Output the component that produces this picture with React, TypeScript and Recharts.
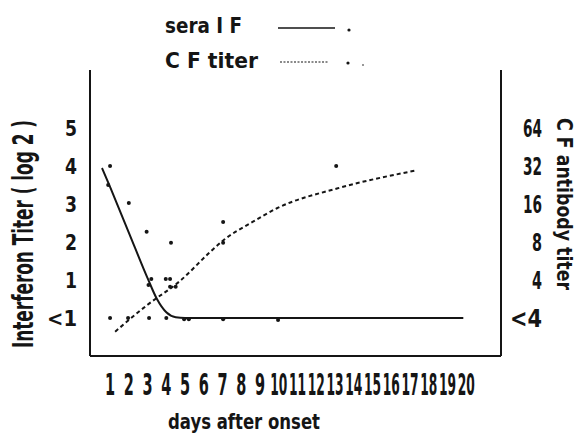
import React from "react";
import { ComposedChart, XAxis, YAxis, Line, Scatter, Customized } from "recharts";

// ---- data ----
const xTicks = [1, 2, 3, 4, 5, 6, 7, 8, 9, 10, 11, 12, 13, 14, 15, 16, 17, 18, 19, 20];
const yTicks = [0, 1, 2, 3, 4, 5];
const leftTickLabels = ["<1", "1", "2", "3", "4", "5"];
const rightTickLabels = ["<4", "4", "8", "16", "32", "64"];

// sera IF (log2 interferon titer), fitted curve
const ifCurveDays = [0.57, 1, 2, 3, 3.5, 4, 4.5, 5, 10, 15, 19.84];
const ifCurveValues = [3.95, 3.45, 2.25, 1.05, 0.5, 0.15, 0.02, 0, 0, 0, 0];

// CF titer, fitted curve (same scale position as right axis)
const cfCurveDays = [1.27, 3, 4.74, 6.34, 7.05, 8.5, 9.9, 13.1, 17.27];
const cfCurveValues = [-0.36, 0.35, 0.98, 1.74, 2.05, 2.5, 2.89, 3.41, 3.88];

// individual sera IF observations
const ifDotDays = [1.0, 0.9, 1.0, 2.0, 1.96, 2.95, 3.2, 3.05, 3.08, 4.25, 3.97, 4.2, 4.2, 4.5, 4.0, 4.95, 5.2, 7.03, 9.96];
const ifDotValues = [4.0, 3.5, 0, 3.03, 0, 2.27, 1.03, 0.87, 0, 1.98, 1.03, 1.03, 0.82, 0.82, 0, -0.03, -0.03, -0.03, -0.05];

// individual CF observations
const cfDotDays = [7.03, 7.03, 13.06];
const cfDotValues = [2.53, 1.98, 4.0];

const ifCurve = ifCurveDays.map((x, i) => ({ x, y: ifCurveValues[i] }));
const cfCurve = cfCurveDays.map((x, i) => ({ x, y: cfCurveValues[i] }));
const ifDots = ifDotDays.map((x, i) => ({ x, y: ifDotValues[i] }));
const cfDots = cfDotDays.map((x, i) => ({ x, y: cfDotValues[i] }));

const INK = "#151515";
const FONT = "'DejaVu Sans Condensed', 'Liberation Sans Narrow', sans-serif";

const XTick = (props: any) => {
  const { x, y, payload } = props;
  const v = payload.value;
  const two = String(v).length > 1;
  const sx = two ? 0.44 : 0.52;
  return (
    <text
      transform={`translate(${x},${y + 39}) scale(${sx},1)`}
      x={0}
      y={0}
      textAnchor="middle"
      fontFamily={FONT}
      fontWeight="bold"
      fontSize={31}
      fill={INK}
    >
      {v}
    </text>
  );
};

const LeftTick = (props: any) => {
  const { x, y, payload } = props;
  const idx = yTicks.indexOf(payload.value);
  const label = leftTickLabels[idx];
  return (
    <text
      x={x}
      y={y + 8}
      textAnchor="end"
      fontFamily={FONT}
      fontWeight="bold"
      fontSize={22}
      fill={INK}
      textLength={label.length > 1 ? 30 : 12}
      lengthAdjust="spacingAndGlyphs"
    >
      {label}
    </text>
  );
};

const RightTick = (props: any) => {
  const { x, y, payload } = props;
  const idx = yTicks.indexOf(payload.value);
  const label = rightTickLabels[idx];
  return (
    <text
      x={x}
      y={y + 9}
      textAnchor="end"
      fontFamily={FONT}
      fontWeight="bold"
      fontSize={25}
      fill={INK}
      textLength={label.length > 1 ? (label[0] === "<" ? 32 : 19) : 10}
      lengthAdjust="spacingAndGlyphs"
    >
      {label}
    </text>
  );
};

const Dot = (props: any) => {
  const { cx, cy } = props;
  return <circle cx={cx} cy={cy} r={2} fill={INK} />;
};

const Decor = () => (
  <g fontFamily={FONT} fontWeight="bold" fill={INK}>
    {/* legend */}
    <text x={165} y={33} fontSize={22} textLength={77} lengthAdjust="spacingAndGlyphs">sera  I F</text>
    <line x1={278} y1={28} x2={335} y2={28} stroke={INK} strokeWidth={1.5} />
    <circle cx={349} cy={30} r={1.6} fill={INK} />
    <text x={165} y={68} fontSize={22} textLength={93} lengthAdjust="spacingAndGlyphs">C F  titer</text>
    <line x1={280} y1={62} x2={328} y2={62} stroke={INK} strokeWidth={1.2} strokeDasharray="2 1.5" />
    <circle cx={348} cy={63} r={1.6} fill={INK} />
    <circle cx={363} cy={65} r={0.8} fill={INK} />
    {/* axis titles */}
    <text
      x={33}
      y={234}
      fontSize={28}
      textAnchor="middle"
      transform="rotate(-90, 33, 234)"
      textLength={228}
      lengthAdjust="spacingAndGlyphs"
    >
      Interferon  Titer ( log 2 )
    </text>
    <text
      x={557}
      y={204}
      fontSize={21}
      textAnchor="middle"
      transform="rotate(90, 557, 204)"
      textLength={172}
      lengthAdjust="spacingAndGlyphs"
    >
      C F  antibody  titer
    </text>
    <text x={168} y={429} fontSize={21} textLength={152} lengthAdjust="spacingAndGlyphs">
      days  after  onset
    </text>
  </g>
);

export default function App() {
  return (
    <div style={{ position: "absolute", left: 0, top: 0, background: "#fff" }}>
      <ComposedChart width={580} height={437} margin={{ top: 70, right: 0, bottom: 0, left: 0 }}>
        <XAxis
          type="number"
          dataKey="x"
          domain={[-0.07, 21.85]}
          allowDataOverflow
          ticks={xTicks}
          interval={0}
          tick={XTick}
          tickLine={false}
          tickSize={0}
          tickMargin={0}
          height={81}
          axisLine={{ stroke: INK, strokeWidth: 2 }}
        />
        <YAxis
          yAxisId="left"
          type="number"
          domain={[-1, 6.53]}
          allowDataOverflow
          ticks={yTicks}
          interval={0}
          width={90}
          tick={LeftTick}
          tickLine={false}
          tickSize={0}
          tickMargin={13}
          axisLine={{ stroke: INK, strokeWidth: 2 }}
        />
        <YAxis
          yAxisId="right"
          orientation="right"
          type="number"
          domain={[-1, 6.53]}
          allowDataOverflow
          ticks={yTicks}
          interval={0}
          width={79}
          tick={RightTick}
          tickLine={false}
          tickSize={0}
          tickMargin={41}
          axisLine={{ stroke: INK, strokeWidth: 2 }}
        />
        <Line
          yAxisId="left"
          data={ifCurve}
          dataKey="y"
          type="monotone"
          stroke={INK}
          strokeWidth={2}
          dot={false}
          activeDot={false}
          isAnimationActive={false}
        />
        <Line
          yAxisId="right"
          data={cfCurve}
          dataKey="y"
          type="monotone"
          stroke={INK}
          strokeWidth={2}
          strokeDasharray="4 3"
          dot={false}
          activeDot={false}
          isAnimationActive={false}
        />
        <Scatter yAxisId="left" data={ifDots} dataKey="y" shape={Dot} isAnimationActive={false} />
        <Scatter yAxisId="right" data={cfDots} dataKey="y" shape={Dot} isAnimationActive={false} />
        <Customized component={Decor} />
      </ComposedChart>
    </div>
  );
}
